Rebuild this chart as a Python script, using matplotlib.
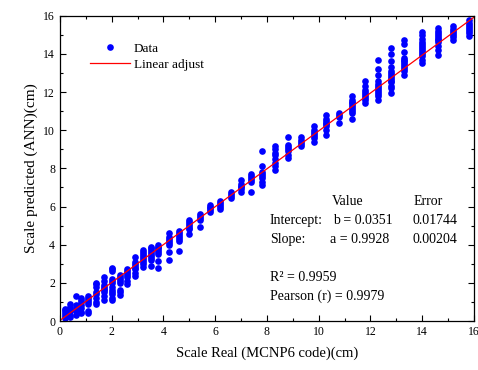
import matplotlib
matplotlib.use("Agg")
import matplotlib.pyplot as plt
from matplotlib.ticker import MultipleLocator

plt.rcParams['font.family'] = ['Liberation Serif', 'DejaVu Serif']

# Datos: valor real (columna) y valores predichos
x_real = [0.2, 0.4, 0.6, 0.8, 1.1, 1.4, 1.7, 2.0, 2.3, 2.6, 2.9, 3.2, 3.5, 3.8,
          4.2, 4.6, 5.0, 5.4, 5.8, 6.2, 6.6, 7.0, 7.4, 7.8, 8.3, 8.8, 9.3, 9.8,
          10.3, 10.8, 11.3, 11.8, 12.3, 12.8, 13.3, 14.0, 14.6, 15.2, 15.8]
y_pred = [
    [0.15, 0.25, 0.35, 0.45, 0.6, 0.65],
    [0.2, 0.3, 0.5, 0.6, 0.75, 0.9],
    [0.3, 0.5, 0.6, 0.7, 0.85, 1.3],
    [0.4, 0.45, 0.7, 0.85, 1.0, 1.1, 1.2],
    [0.4, 0.5, 0.9, 1.0, 1.1, 1.2, 1.3],
    [0.9, 1.0, 1.2, 1.4, 1.5, 1.8, 1.95, 2.0],
    [1.1, 1.3, 1.5, 1.6, 1.7, 1.8, 1.9, 2.1, 2.3],
    [1.1, 1.2, 1.4, 1.5, 1.6, 1.8, 2.0, 2.1, 2.2, 2.6, 2.7, 2.8],
    [1.35, 1.5, 1.6, 2.0, 2.1, 2.2, 2.3, 2.4],
    [1.95, 2.1, 2.3, 2.4, 2.5, 2.6, 2.7],
    [2.35, 2.5, 2.7, 2.8, 2.9, 3.0, 3.1, 3.35],
    [2.85, 3.0, 3.1, 3.2, 3.3, 3.4, 3.5, 3.6, 3.7],
    [2.9, 3.2, 3.3, 3.4, 3.5, 3.6, 3.7, 3.8, 3.9],
    [2.8, 3.15, 3.5, 3.6, 3.7, 3.8, 3.9, 4.0],
    [3.2, 3.6, 4.0, 4.1, 4.2, 4.3, 4.4, 4.6],
    [3.65, 4.2, 4.3, 4.4, 4.5, 4.6, 4.7],
    [4.55, 4.8, 4.9, 5.0, 5.1, 5.2, 5.3],
    [4.95, 5.3, 5.4, 5.5, 5.6],
    [5.7, 5.8, 5.9, 6.0, 6.1],
    [5.85, 6.0, 6.1, 6.2, 6.3],
    [6.45, 6.55, 6.65, 6.75],
    [6.75, 6.9, 7.0, 7.1, 7.2, 7.4],
    [6.75, 7.3, 7.4, 7.5, 7.6, 7.7],
    [7.15, 7.3, 7.5, 7.6, 7.7, 7.8, 8.1, 8.9],
    [7.9, 8.1, 8.3, 8.5, 8.7, 8.8, 9.0, 9.15],
    [8.55, 8.7, 8.9, 9.0, 9.1, 9.2, 9.65],
    [9.15, 9.3, 9.4, 9.5, 9.65],
    [9.4, 9.6, 9.7, 9.8, 9.9, 10.0, 10.2],
    [9.75, 10.0, 10.2, 10.3, 10.4, 10.5, 10.6, 10.8],
    [10.4, 10.7, 10.8, 10.9],
    [10.6, 10.9, 11.0, 11.1, 11.2, 11.3, 11.4, 11.5, 11.6, 11.8],
    [11.4, 11.6, 11.7, 11.8, 11.9, 12.0, 12.1, 12.3, 12.6],
    [11.6, 11.8, 11.9, 12.0, 12.1, 12.2, 12.3, 12.4, 12.6, 12.9, 13.2, 13.7],
    [11.95, 12.2, 12.3, 12.5, 12.6, 12.7, 12.8, 12.9, 13.0, 13.1, 13.3, 13.6, 14.0, 14.3],
    [12.9, 13.1, 13.2, 13.3, 13.4, 13.5, 13.6, 13.7, 13.8, 14.1, 14.5, 14.7],
    [13.5, 13.7, 13.9, 14.0, 14.1, 14.2, 14.3, 14.4, 14.5, 14.6, 14.8, 15.0, 15.15],
    [13.95, 14.2, 14.4, 14.6, 14.7, 14.8, 14.9, 15.0, 15.1, 15.2, 15.35],
    [14.7, 14.9, 15.0, 15.1, 15.2, 15.3, 15.45],
    [14.95, 15.1, 15.2, 15.3, 15.4, 15.5, 15.6, 15.75],
]

# Ajuste lineal reportado
intercepto = 0.0351
pendiente = 0.9928
linea_x = [0, 16]

xs, ys = [], []
for xv, col in zip(x_real, y_pred):
    xs += [xv] * len(col)
    ys += col

fig, ax = plt.subplots(figsize=(4.78, 3.70), dpi=100)
fig.subplots_adjust(left=0.1255, right=0.9916, top=0.9576, bottom=0.1324)

ax.plot(xs, ys, 'o', color='#0000ff', markersize=4.8, markeredgewidth=0, label='Data')
ax.plot(linea_x, [intercepto + pendiente * v for v in linea_x], color='red',
        linewidth=0.9, label='Linear adjust')

ax.set_xlim(0, 16)
ax.set_ylim(0, 16)
ax.xaxis.set_major_locator(MultipleLocator(2))
ax.xaxis.set_minor_locator(MultipleLocator(1))
ax.yaxis.set_major_locator(MultipleLocator(2))
ax.yaxis.set_minor_locator(MultipleLocator(1))
ax.tick_params(which='both', direction='in', top=True, right=True, labelsize=8.5, width=0.8)
ax.tick_params(which='major', length=4.5)
ax.tick_params(which='minor', length=2.5)
for s in ax.spines.values():
    s.set_linewidth(0.9)

ax.set_xlabel('Scale Real (MCNP6 code)(cm)', fontsize=10.5, labelpad=6)
ax.set_ylabel('Scale predicted (ANN)(cm)', fontsize=11, labelpad=4)

ax.legend(loc='upper left', bbox_to_anchor=(0.06, 0.93), frameon=False, fontsize=9.5,
          handlelength=3.0, handletextpad=0.3, labelspacing=0.3, borderaxespad=0)

fs = 10
ax.text(0.657, 0.39, 'Value', transform=ax.transAxes, fontsize=fs, va='center')
ax.text(0.853, 0.39, 'Error', transform=ax.transAxes, fontsize=fs, va='center')
ax.text(0.507, 0.328, 'Intercept:', transform=ax.transAxes, fontsize=fs, va='center')
ax.text(0.659, 0.328, 'b = 0.0351', transform=ax.transAxes, fontsize=fs, va='center')
ax.text(0.852, 0.328, '0.01744', transform=ax.transAxes, fontsize=fs, va='center')
ax.text(0.507, 0.266, 'Slope:', transform=ax.transAxes, fontsize=fs, va='center')
ax.text(0.652, 0.266, 'a = 0.9928', transform=ax.transAxes, fontsize=fs, va='center')
ax.text(0.851, 0.266, '0.00204', transform=ax.transAxes, fontsize=fs, va='center')
ax.text(0.507, 0.144, 'R² = 0.9959', transform=ax.transAxes, fontsize=fs, va='center')
ax.text(0.507, 0.08, 'Pearson (r) = 0.9979', transform=ax.transAxes, fontsize=fs, va='center')

fig.savefig('out.png', dpi=100)
